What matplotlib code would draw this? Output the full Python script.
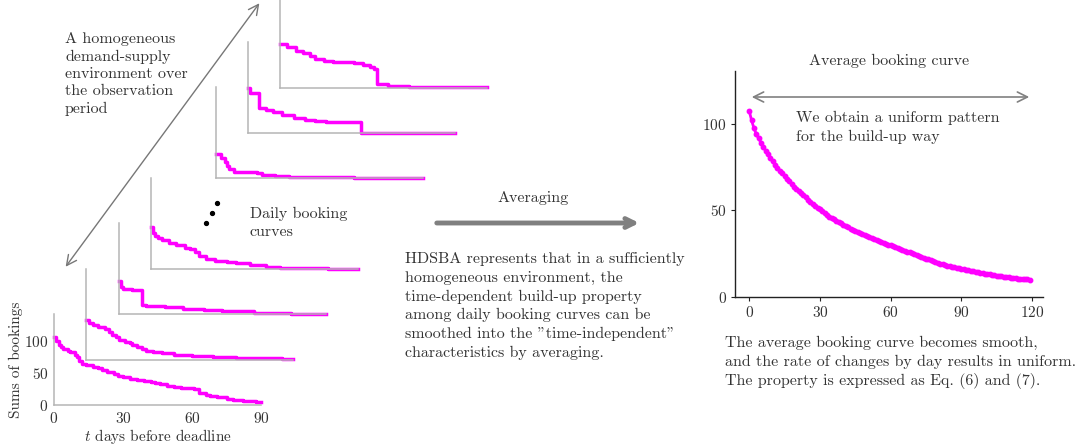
import numpy as np
import matplotlib.pyplot as plt

plt.rcParams['font.family'] = 'serif'
plt.rcParams['font.serif'] = ['cmr10']
plt.rcParams['mathtext.fontset'] = 'cm'
plt.rcParams['axes.unicode_minus'] = False
plt.rcParams['axes.formatter.use_mathtext'] = True

W, H = 1083, 448
TXT = '#333333'
MAG = '#ff00ff'

# daily booking curves: (day, sums of bookings) change points of the step curves
curve_1_days = [0, 1, 2, 3, 4, 6, 7, 9, 10, 11, 12, 14, 17, 19, 21, 23, 26, 28, 30, 33, 36, 39, 42, 44,
                46, 49, 52, 55, 61, 63, 66, 68, 71, 75, 78, 82, 86, 88, 90]
curve_1_vals = [106, 100, 94, 91, 88, 85, 82, 78, 75, 68, 64, 62, 60, 57, 55, 52, 48, 46, 44, 41, 39, 38,
                36, 34, 33, 30, 28, 27, 25, 18, 16, 14, 12, 9, 8, 7, 6, 5, 4]
curve_2_days = [0, 1, 3, 5, 8, 10, 11, 13, 14, 17, 19, 20, 22, 24, 26, 29, 33, 38, 46, 55, 65, 76, 85, 90]
curve_2_vals = [62, 58, 54, 51, 48, 44, 39, 35, 30, 28, 26, 23, 20, 17, 14, 12, 10, 8, 6, 4, 3, 2, 1.5, 1]
curve_3_days = [0, 1, 2, 6, 10, 12, 20, 28, 37, 45, 57, 59, 75, 90]
curve_3_vals = [52, 42, 39, 38, 15, 13, 11, 9, 7, 6, 5, 1.5, 0.8, 0.5]
curve_4_days = [0, 1, 2, 3, 5, 8, 11, 15, 17, 19, 21, 24, 28, 33, 37, 43, 50, 56, 65, 77, 90]
curve_4_vals = [66, 57, 52, 49, 45, 41, 38, 33, 31, 26, 20, 16, 12.5, 11, 10, 6, 4, 2, 1, 0.5, 0.5]
curve_5_days = [0, 2.5, 4, 5, 6, 8, 18, 20, 26, 32, 40, 60, 90]
curve_5_vals = [38, 32, 26, 20, 15, 10, 8.5, 6, 4, 3, 2, 1, 1]
curve_6_days = [0, 1, 5, 8, 11, 15, 20, 25, 29, 34, 49, 90]
curve_6_vals = [71, 63, 40, 36, 33, 28, 24, 21, 19, 17, 1, 1]
curve_7_days = [0, 3, 7, 10, 13, 15, 19, 23, 32, 36, 39, 41, 42, 47, 56, 90]
curve_7_vals = [69, 64, 57, 55, 49, 45, 42, 40, 39, 35, 32, 30, 6, 3, 1, 1]

# slot in the stack (slot 4 is left for the dots)
stack = [(0, curve_1_days, curve_1_vals), (1, curve_2_days, curve_2_vals),
         (2, curve_3_days, curve_3_vals), (3, curve_4_days, curve_4_vals),
         (5, curve_5_days, curve_5_vals), (6, curve_6_days, curve_6_vals),
         (7, curve_7_days, curve_7_vals)]

# average booking curve, day 0..119
avg_vals = [107.5, 102, 97.5, 94, 91.5, 89, 86.5, 84.3, 82.2, 80.2, 78.2, 76.4, 74.6, 72.9, 71.3, 69.8,
            68.2, 66.7, 65.2, 63.7, 62.4, 61.2, 59.9, 58.6, 57.5, 56.2, 55.0, 53.8, 52.6, 51.5, 50.5,
            49.4, 48.3, 47.3, 46.4, 45.5, 44.7, 43.9, 43.1, 42.4, 41.6, 40.9, 40.2, 39.5, 38.8, 38.2,
            37.6, 36.9, 36.3, 35.7, 35.1, 34.5, 33.9, 33.3, 32.8, 32.3, 31.8, 31.2, 30.7, 30.2, 29.8,
            29.3, 28.8, 28.3, 27.8, 27.3, 26.8, 26.2, 25.7, 25.1, 24.6, 24.1, 23.6, 23.1, 22.6, 22.2,
            21.7, 21.3, 20.8, 20.3, 19.8, 19.3, 18.9, 18.5, 18.1, 17.8, 17.5, 17.2, 16.9, 16.6, 16.3,
            16.0, 15.7, 15.4, 15.1, 14.8, 14.5, 14.2, 13.9, 13.7, 13.4, 13.2, 13.0, 12.7, 12.5, 12.3,
            12.1, 11.9, 11.7, 11.5, 11.3, 11.1, 10.9, 10.8, 10.6, 10.5, 10.3, 10.2, 10.1, 10.0]
avg_days = np.arange(len(avg_vals))


def fx(x):
    return x / W


def fy(y):
    return 1 - y / H


fig = plt.figure(figsize=(W / 100, H / 100), dpi=100)

# stacked daily curves
pw, ph = 207, 91
for slot, d, v in stack:
    x0 = 54 + 32.3 * slot
    y0 = 405 - 45.3 * slot
    ax = fig.add_axes([fx(x0), fy(y0), pw / W, ph / H])
    ax.patch.set_alpha(0)
    ax.plot(d, v, drawstyle='steps-post', color=MAG, lw=2.5, clip_on=False)
    ax.set_xlim(0, 90)
    ax.set_ylim(0, 142)
    for s in ['top', 'right']:
        ax.spines[s].set_visible(False)
    for s in ['left', 'bottom']:
        ax.spines[s].set_color('#b5b5b5')
        ax.spines[s].set_linewidth(1.1)
    if slot == 0:
        ax.set_xticks([0, 30, 60, 90])
        ax.set_yticks([0, 50, 100])
        ax.tick_params(length=0, labelsize=11, labelcolor=TXT, pad=4)
        ax.set_xlabel('$t$ days before deadline', fontsize=11, color=TXT, labelpad=1)
        ax.set_ylabel('Sums of bookings', fontsize=11, color=TXT, labelpad=1)
    else:
        ax.set_xticks([])
        ax.set_yticks([])

# average curve
ax = fig.add_axes([fx(735), fy(297), (1043 - 735) / W, (297 - 70.7) / H])
ax.patch.set_alpha(0)
ax.plot(avg_days, avg_vals, color=MAG, lw=2.0, marker='o', ms=3.2)
ax.set_xlim(-6, 124.6)
ax.set_ylim(0, 130.5)
ax.set_xticks([0, 30, 60, 90, 120])
ax.set_yticks([0, 50, 100])
for s in ['top', 'right']:
    ax.spines[s].set_visible(False)
for s in ['left', 'bottom']:
    ax.spines[s].set_color('#222222')
    ax.spines[s].set_linewidth(1.0)
ax.tick_params(length=3, width=0.8, color='#222222', labelsize=11, labelcolor=TXT, pad=3)
ax.annotate('', xy=(1032, H - 97), xytext=(749, H - 97), xycoords='figure pixels',
            arrowprops=dict(arrowstyle='<->', color='#808080', lw=1.2, mutation_scale=18))

# arrows
fig.add_artist(plt.Annotation('', xy=(fx(261), fy(1)), xytext=(fx(64), fy(269)),
                              xycoords='figure fraction',
                              arrowprops=dict(arrowstyle='<->', color='#777777', lw=1.0,
                                              mutation_scale=18)))
fig.add_artist(plt.Annotation('', xy=(fx(642), fy(223)), xytext=(fx(434), fy(223)),
                              xycoords='figure fraction',
                              arrowprops=dict(arrowstyle='->', color='#808080', lw=3.5,
                                              mutation_scale=16)))

# dots
fig.add_artist(plt.Line2D([fx(206.3), fx(211.5), fx(217)], [fy(222.7), fy(213.3), fy(203.3)],
                          ls='none', marker='o', ms=2.8, color='black'))

fs = 11.5
fig.text(fx(65), fy(32.5), 'A homogeneous\ndemand-supply\nenvironment over\nthe observation\nperiod',
         fontsize=fs, color=TXT, ha='left', va='top', linespacing=1.3)
fig.text(fx(250), fy(207), 'Daily booking\ncurves', fontsize=fs, color=TXT, ha='left', va='top',
         linespacing=1.4)
fig.text(fx(533), fy(198), 'Averaging', fontsize=fs, color=TXT, ha='center', va='center')
fig.text(fx(405), fy(252.5),
         'HDSBA represents that in a sufficiently\nhomogeneous environment, the\n'
         'time-dependent build-up property\namong daily booking curves can be\n'
         'smoothed into the "time-independent"\ncharacteristics by averaging.',
         fontsize=fs, color=TXT, ha='left', va='top', linespacing=1.4)
fig.text(fx(889), fy(61), 'Average booking curve', fontsize=fs, color=TXT, ha='center', va='center')
fig.text(fx(796), fy(111), 'We obtain a uniform pattern\nfor the build-up way', fontsize=fs,
         color=TXT, ha='left', va='top', linespacing=1.4)
fig.text(fx(725), fy(336),
         'The average booking curve becomes smooth,\nand the rate of changes by day results in uniform.\n'
         'The property is expressed as Eq. (6) and (7).',
         fontsize=fs, color=TXT, ha='left', va='top', linespacing=1.37)

fig.savefig('out.png', dpi=100)
